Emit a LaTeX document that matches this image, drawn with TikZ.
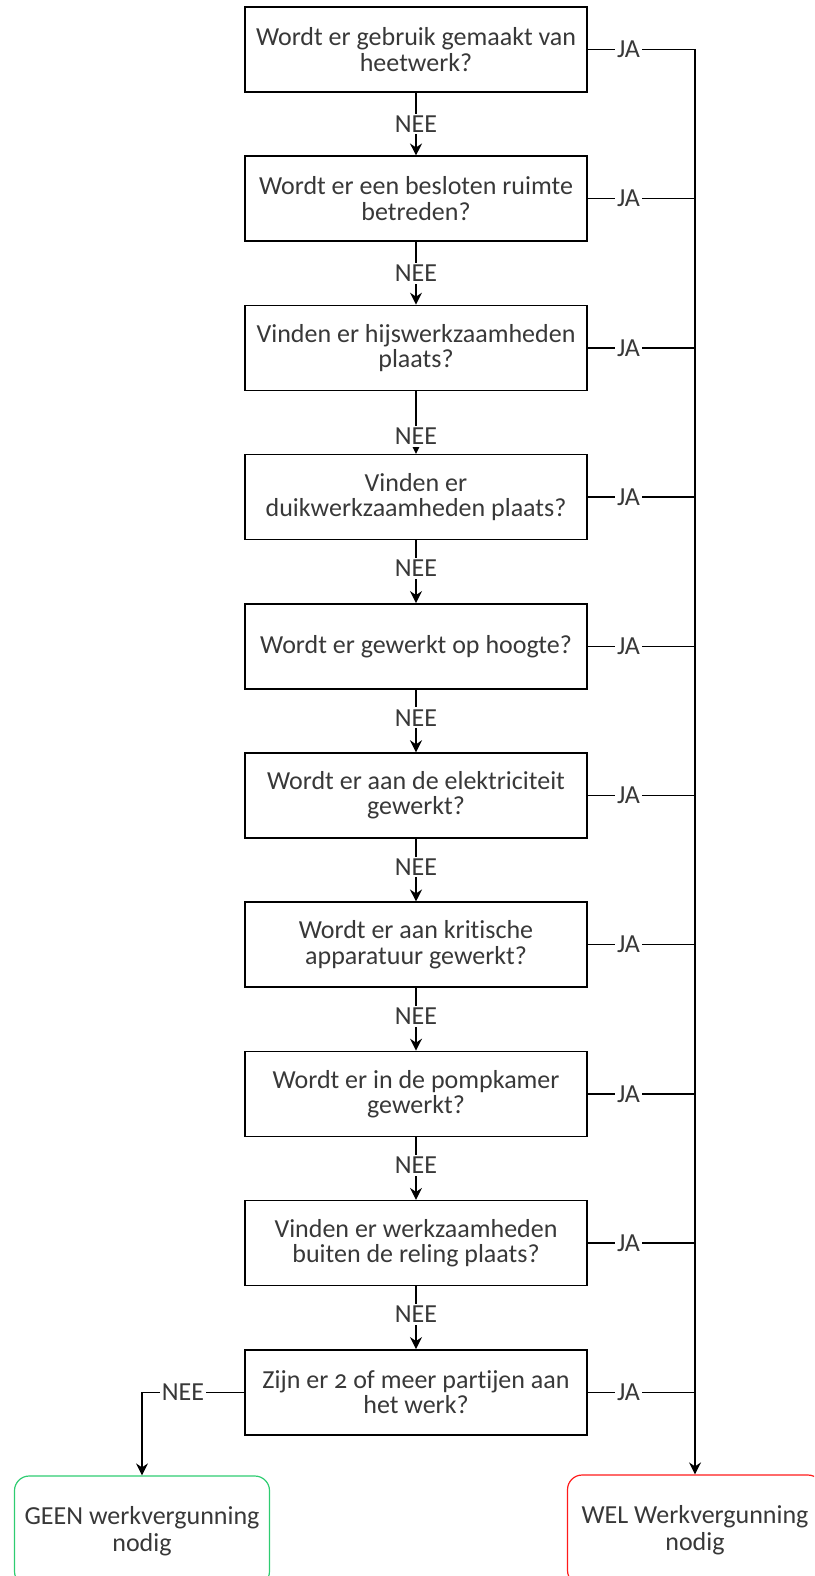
\documentclass[tikz,border=0pt]{standalone}
\usepackage{fontspec}
\setmainfont{Carlito}[Numbers=OldStyle, Ligatures=NoCommon]
\usepackage{tikz}
\usetikzlibrary{arrows.meta, positioning}
\usepackage{xcolor}
\definecolor{tekst}{HTML}{383838}
\definecolor{groen}{HTML}{2ECC71}
\definecolor{rood}{HTML}{FF1A1A}
\tikzset{
    vraag/.style={draw, line width=1.1pt, minimum width=256.5pt, minimum height=63.75pt, inner sep=0pt, align=center, text=tekst, font=\fontsize{19.5}{19}\selectfont},
    uitkomst/.style={draw, line width=0.9pt, rounded corners=11pt, minimum width=191.25pt, minimum height=82.5pt, inner sep=0pt, align=center, text=tekst, font=\fontsize{19.5}{20.5}\selectfont},
    lijn/.style={line width=1.1pt},
    pijl/.style={-{Stealth[length=9pt, width=9pt, inset=3pt]}, line width=1.1pt},
    antwoord/.style={fill=white, inner sep=1.5pt, text=tekst, font=\fontsize{19.5}{20}\selectfont},
}
\begin{document}
\begin{tikzpicture}[x=0.75pt, y=-0.75pt]
\useasboundingbox (0,0) rectangle (814,1576);
\clip (0,0) rectangle (814,1576);
% vragen
\foreach \i/\txt in {
    1/{Wordt er gebruik gemaakt van\\heetwerk?},
    2/{Wordt er een besloten ruimte\\betreden?},
    3/{Vinden er hijswerkzaamheden\\plaats?},
    4/{Vinden er\\duikwerkzaamheden plaats?},
    5/{Wordt er gewerkt op hoogte?},
    6/{Wordt er aan de elektriciteit\\gewerkt?},
    7/{Wordt er aan kritische\\apparatuur gewerkt?},
    8/{Wordt er in de pompkamer\\gewerkt?},
    9/{Vinden er werkzaamheden\\buiten de reling plaats?},
    10/{Zijn er 2 of meer partijen aan\\het werk?}}
    {\node[vraag] (q\i) at (416, {49.5+149.2*(\i-1)}) {\txt};}
% uitkomsten
\node[uitkomst, draw=groen] (geen) at (142,1531) {GEEN werkvergunning\\nodig};
\node[uitkomst, draw=rood] (wel) at (695,1530) {WEL Werkvergunning\\nodig};
% NEE
\foreach \i/\j/\p in {1/2/0.5, 2/3/0.5, 3/4/0.72, 4/5/0.45, 5/6/0.45, 6/7/0.45, 7/8/0.45, 8/9/0.45, 9/10/0.45}
    {\draw[pijl] (q\i) -- node[pos=\p, antwoord] {NEE} (q\j);}
\draw[pijl] (q10.west) -| node[pos=0.3, antwoord] {NEE} (geen.north);
% JA
\coordinate (stam) at (q1.east -| wel.north);
\draw[pijl] (stam) -- (wel.north);
\foreach \i in {1,...,10}
    {\draw[lijn] (q\i.east) -- node[pos=0.38, antwoord] {JA} (q\i.east -| wel.north);}
\end{tikzpicture}
\end{document}
